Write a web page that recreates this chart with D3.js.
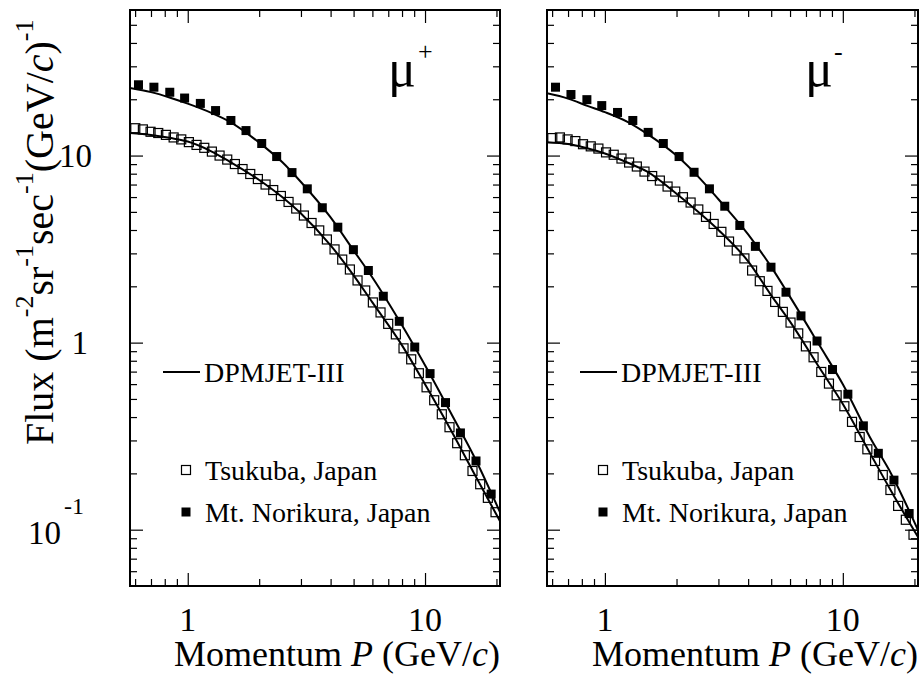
<!DOCTYPE html>
<html>
<head>
<meta charset="utf-8">
<script src="https://cdn.jsdelivr.net/npm/d3@7"></script>
<style>
  body { margin: 0; background: #fff; }
  svg { display: block; }
</style>
</head>
<body>
<svg id="chart" width="921" height="676" font-family="Liberation Serif, serif"></svg>
<script>
// Momentum bin centres (GeV/c)
const momentumTsukuba = [0.601, 0.647, 0.697, 0.751, 0.809, 0.872, 0.939, 1.011, 1.089, 1.174,
  1.264, 1.362, 1.467, 1.580, 1.702, 1.834, 1.975, 2.128, 2.292, 2.469,
  2.660, 2.865, 3.087, 3.325, 3.582, 3.858, 4.156, 4.477, 4.823, 5.195,
  5.596, 6.028, 6.494, 6.995, 7.535, 8.117, 8.744, 9.419, 10.15, 10.93,
  11.77, 12.68, 13.66, 14.72, 15.85, 17.08, 18.40, 19.82];
const momentumNorikura = [0.62, 0.72, 0.84, 0.97, 1.13, 1.31, 1.52, 1.76, 2.05, 2.37,
  2.75, 3.19, 3.69, 4.29, 4.99, 5.77, 6.67, 7.79, 9.05, 10.5,
  12.2, 14.1, 16.4, 19.0];

// Measured flux (m^-2 sr^-1 sec^-1 (GeV/c)^-1)
const tsukubaMuPlus = [14.0, 13.8, 13.4, 13.2, 12.9, 12.5, 12.2, 11.8, 11.4, 11.0,
  10.5, 10.0, 9.52, 9.01, 8.47, 7.97, 7.49, 7.00, 6.54, 6.08,
  5.65, 5.21, 4.78, 4.36, 3.98, 3.56, 3.15, 2.78, 2.46, 2.15,
  1.90, 1.64, 1.45, 1.26, 1.107, 0.932, 0.814, 0.686, 0.577, 0.492,
  0.414, 0.353, 0.290, 0.250, 0.206, 0.175, 0.148, 0.124];
const norikuraMuPlus = [23.9, 23.2, 21.8, 20.3, 19.0, 17.4, 15.4, 13.6, 11.6, 9.88,
  8.11, 6.64, 5.26, 4.14, 3.14, 2.43, 1.77, 1.30, 0.947, 0.683,
  0.478, 0.329, 0.233, 0.155];
const tsukubaMuMinus = [12.4, 12.5, 12.2, 11.95, 11.5, 11.2, 10.9, 10.4, 10.1, 9.64,
  9.18, 8.74, 8.21, 7.77, 7.35, 6.83, 6.42, 5.99, 5.61, 5.15,
  4.70, 4.31, 3.91, 3.47, 3.11, 2.82, 2.43, 2.13, 1.89, 1.65,
  1.46, 1.28, 1.12, 0.955, 0.835, 0.697, 0.604, 0.523, 0.457, 0.377,
  0.313, 0.269, 0.233, 0.196, 0.163, 0.134, 0.113, 0.094];
const norikuraMuMinus = [23.2, 21.2, 19.9, 18.5, 17.0, 15.4, 13.3, 11.6, 9.88, 8.14,
  6.64, 5.36, 4.23, 3.27, 2.53, 1.86, 1.39, 1.02, 0.718, 0.530,
  0.359, 0.256, 0.184, 0.122];

// DPMJET-III predictions
const momentumModel = [0.571, 0.7, 0.85, 1, 1.25, 1.5, 2, 2.5, 3, 4, 5, 6, 8, 10, 13, 16, 20.7];
const dpmTsukubaMuPlus = [13.19, 12.87, 12.40, 11.88, 10.57, 9.29, 7.40, 6.00, 4.90, 3.31,
  2.29, 1.64, 0.967, 0.599, 0.332, 0.203, 0.111];
const dpmNorikuraMuPlus = [22.95, 21.83, 20.33, 18.95, 16.97, 15.19, 11.73, 9.23, 7.22, 4.67,
  3.11, 2.23, 1.237, 0.756, 0.409, 0.250, 0.124];
const dpmTsukubaMuMinus = [11.78, 11.52, 10.91, 10.26, 9.15, 8.23, 6.25, 4.93, 4.00, 2.72,
  1.79, 1.295, 0.729, 0.470, 0.257, 0.160, 0.0913];
const dpmNorikuraMuMinus = [21.51, 20.16, 18.38, 17.07, 15.10, 13.11, 10.0, 7.58, 5.84, 3.79,
  2.54, 1.756, 0.961, 0.599, 0.312, 0.198, 0.0995];

// Axis ticks
const xMajorTicks = [1, 10];
const xMinorTicks = [0.6, 0.7, 0.8, 0.9, 2, 3, 4, 5, 6, 7, 8, 9, 20];
const xTickLabels = ["1", "10"];
const yMajorTicks = [0.1, 1, 10];
const yMinorTicks = [0.06, 0.07, 0.08, 0.09, 0.2, 0.3, 0.4, 0.5, 0.6, 0.7, 0.8, 0.9,
  2, 3, 4, 5, 6, 7, 8, 9, 20, 30, 40, 50];

const FONT = "'Liberation Serif', 'Times New Roman', Times, serif";
const svg = d3.select("#chart");
svg.append("rect").attr("width", 921).attr("height", 676).attr("fill", "#fff");

// text helper with the serif face applied directly
const txt = (parent, x, y, size) => parent.append("text")
  .attr("x", x).attr("y", y).attr("font-size", size)
  .style("font-family", FONT).attr("fill", "#000");

const plotTop = 10, plotH = 576;
const panels = [
  { left: 130, width: 370, sign: "+", tsukuba: tsukubaMuPlus, norikura: norikuraMuPlus,
    dpmT: dpmTsukubaMuPlus, dpmN: dpmNorikuraMuPlus, yLabels: true },
  { left: 547, width: 371, sign: "-", tsukuba: tsukubaMuMinus, norikura: norikuraMuMinus,
    dpmT: dpmTsukubaMuMinus, dpmN: dpmNorikuraMuMinus, yLabels: false }
];

const SQ = 9;

panels.forEach((p, i) => {
  const g = svg.append("g").attr("transform", `translate(${p.left},${plotTop})`);
  const x = d3.scaleLog().domain([0.571, 20.7]).range([0, p.width]);
  const y = d3.scaleLog().domain([0.05, 60]).range([plotH, 0]);

  const clipId = "clip" + i;
  g.append("clipPath").attr("id", clipId)
    .append("rect").attr("width", p.width).attr("height", plotH);

  // ticks on all four sides, pointing inward
  const tickStyle = sel => {
    sel.select(".domain").remove();
    sel.selectAll("line").attr("stroke", "#000").attr("stroke-width", 1.2);
  };
  const addAxis = (axisFn, scale, vals, size, tx, ty) => {
    g.append("g").attr("transform", `translate(${tx},${ty})`)
      .call(axisFn(scale).tickValues(vals).tickSize(-size).tickFormat(""))
      .call(tickStyle);
  };
  addAxis(d3.axisBottom, x, xMajorTicks, 13, 0, plotH);
  addAxis(d3.axisBottom, x, xMinorTicks, 7, 0, plotH);
  addAxis(d3.axisTop, x, xMajorTicks, 13, 0, 0);
  addAxis(d3.axisTop, x, xMinorTicks, 7, 0, 0);
  addAxis(d3.axisLeft, y, yMajorTicks, 13, 0, 0);
  addAxis(d3.axisLeft, y, yMinorTicks, 7, 0, 0);
  addAxis(d3.axisRight, y, yMajorTicks, 13, p.width, 0);
  addAxis(d3.axisRight, y, yMinorTicks, 7, p.width, 0);

  // DPMJET-III curves
  const line = d3.line()
    .x(d => x(d[0])).y(d => y(d[1]))
    .curve(d3.curveMonotoneX);
  const curves = g.append("g").attr("clip-path", `url(#${clipId})`);
  [p.dpmT, p.dpmN].forEach(vals => {
    curves.append("path")
      .datum(momentumModel.map((m, k) => [m, vals[k]]))
      .attr("d", line)
      .attr("fill", "none").attr("stroke", "#000").attr("stroke-width", 2);
  });

  // Tsukuba: open squares
  g.append("g").selectAll("rect")
    .data(momentumTsukuba.map((m, k) => [m, p.tsukuba[k]]))
    .join("rect")
    .attr("x", d => x(d[0]) - SQ / 2).attr("y", d => y(d[1]) - SQ / 2)
    .attr("width", SQ).attr("height", SQ)
    .attr("fill", "none").attr("stroke", "#000").attr("stroke-width", 1.2);

  // Mt. Norikura: filled squares
  g.append("g").selectAll("rect")
    .data(momentumNorikura.map((m, k) => [m, p.norikura[k]]))
    .join("rect")
    .attr("x", d => x(d[0]) - SQ / 2).attr("y", d => y(d[1]) - SQ / 2)
    .attr("width", SQ).attr("height", SQ)
    .attr("fill", "#000");

  // frame
  g.append("rect").attr("width", p.width).attr("height", plotH)
    .attr("fill", "none").attr("stroke", "#000").attr("stroke-width", 2);

  // x tick labels
  xMajorTicks.forEach((v, k) => {
    txt(g, x(v), plotH + 45, 34).attr("text-anchor", "middle").text(xTickLabels[k]);
  });

  // x title
  const xt = txt(g, p.width, plotH + 80, 36).attr("text-anchor", "end");
  xt.append("tspan").text("Momentum ");
  xt.append("tspan").attr("font-style", "italic").text("P");
  xt.append("tspan").text(" (GeV/");
  xt.append("tspan").attr("font-style", "italic").text("c");
  xt.append("tspan").text(")");

  // particle label
  txt(g, 258, 76, 52).text("\u03bc");
  txt(g, p.sign === "+" ? 288 : 287, 50, 26).text(p.sign);

  // legend
  g.append("line").attr("x1", 33).attr("x2", 70).attr("y1", 362).attr("y2", 362)
    .attr("stroke", "#000").attr("stroke-width", 2);
  txt(g, 74, 372, 28).text("DPMJET-III");
  g.append("rect").attr("x", 56 - SQ / 2).attr("y", 460 - SQ / 2).attr("width", SQ).attr("height", SQ)
    .attr("fill", "none").attr("stroke", "#000").attr("stroke-width", 1.2);
  txt(g, 75, 470, 28).text("Tsukuba, Japan");
  g.append("rect").attr("x", 56 - SQ / 2).attr("y", 502 - SQ / 2).attr("width", SQ).attr("height", SQ)
    .attr("fill", "#000");
  txt(g, 75, 512, 28).text("Mt. Norikura, Japan");

  // y tick labels (left panel only)
  if (p.yLabels) {
    txt(g, -38, y(10) + 11, 33).attr("text-anchor", "end").text("10");
    txt(g, -42, y(1) + 11, 33).attr("text-anchor", "end").text("1");
    txt(g, -69, y(0.1) + 14, 33).attr("text-anchor", "end").text("10");
    txt(g, -66, y(0.1) - 16, 24).text("-1");
  }
});

// y title
const yt = txt(svg, 0, 0, 40).attr("transform", "translate(53,445) rotate(-90)");
const sup = t => yt.append("tspan").attr("font-size", 26).attr("dy", -20).text(t);
const base = t => yt.append("tspan").attr("dy", 20).text(t);
yt.append("tspan").text("Flux (m");
sup("-2"); base("sr"); sup("-1"); base("sec"); sup("-1"); base("(GeV/");
yt.append("tspan").attr("font-style", "italic").text("c");
yt.append("tspan").text(")");
sup("-1");
</script>
</body>
</html>
